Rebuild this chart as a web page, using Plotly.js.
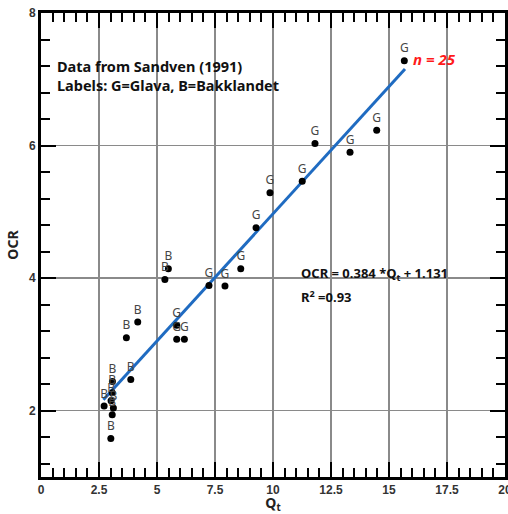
<!DOCTYPE html>
<html>
<head>
<meta charset="utf-8">
<script src="https://cdn.plot.ly/plotly-3.0.1.min.js"></script>
<style>
  html, body { margin: 0; padding: 0; background: #fff; }
  #chart { width: 508px; height: 514px; }
</style>
</head>
<body>
<div id="chart"></div>
<script>
// Sandven (1991) piezocone data: normalized cone resistance vs OCR
const qt = [15.66, 14.47, 13.32, 11.81, 11.26, 9.87, 9.27, 8.61, 7.93, 7.24, 5.85, 5.85, 6.18,
            5.49, 5.34, 4.17, 3.68, 3.87, 3.08, 3.07, 3.02, 2.72, 3.12, 3.07, 3.01];
const ocr = [7.28, 6.23, 5.90, 6.03, 5.46, 5.29, 4.76, 4.14, 3.88, 3.89, 3.29, 3.08, 3.08,
             4.14, 3.98, 3.34, 3.10, 2.47, 2.44, 2.27, 2.15, 2.07, 2.04, 1.94, 1.58];
const site = ['G', 'G', 'G', 'G', 'G', 'G', 'G', 'G', 'G', 'G', 'G', 'G', 'G',
              'B', 'B', 'B', 'B', 'B', 'B', 'B', 'B', 'B', 'B', 'B', 'B'];

// Linear fit OCR = a*Qt + b
const slope = 0.384;
const intercept = 1.131;
const rSquared = 0.93;
const fitRange = [2.69, 15.69];

const xTicks = [0, 2.5, 5, 7.5, 10, 12.5, 15, 17.5, 20];
const yTicks = [2, 4, 6, 8];

const fitX = fitRange;
const fitY = fitRange.map(v => slope * v + intercept);

const points = {
  x: qt, y: ocr, text: site,
  type: 'scatter', mode: 'markers+text',
  marker: { color: '#000', size: 7 },
  textposition: 'top center',
  textfont: { family: 'Noto Sans, sans-serif', size: 12, color: '#444' },
  cliponaxis: false,
  hoverinfo: 'x+y'
};

const fit = {
  x: fitX, y: fitY,
  type: 'scatter', mode: 'lines',
  line: { color: '#1f6bc1', width: 3 },
  hoverinfo: 'skip'
};

const axisCommon = {
  showline: true, linecolor: '#000', linewidth: 3,
  mirror: 'ticks',
  ticks: 'inside', ticklen: 15, tickwidth: 2, tickcolor: '#000',
  showgrid: true, gridcolor: '#8a8a8a', gridwidth: 1.5,
  zeroline: false,
  ticklabeloverflow: 'allow',
  tickfont: { family: 'Liberation Sans, Arial, sans-serif', size: 12, color: '#333', weight: 'bold' }
};

const layout = {
  width: 508, height: 514,
  margin: { l: 41, r: 3, t: 13, b: 37 },
  paper_bgcolor: '#fff', plot_bgcolor: '#fff',
  showlegend: false,
  xaxis: Object.assign({}, axisCommon, {
    range: [0, 20],
    tickvals: xTicks,
    ticktext: xTicks.map(String),
    minor: { dtick: 0.5, tick0: 0, ticks: 'inside', ticklen: 9, tickwidth: 2, tickcolor: '#000', showgrid: false },
    title: { text: 'Q<sub>t</sub>', standoff: 4,
             font: { family: 'Noto Sans, sans-serif', size: 14, color: '#222', weight: 'bold' } }
  }),
  yaxis: Object.assign({}, axisCommon, {
    range: [1, 8],
    tickvals: yTicks,
    ticktext: yTicks.map(String),
    minor: { dtick: 0.4, tick0: 0, ticks: 'inside', ticklen: 9, tickwidth: 2, tickcolor: '#000', showgrid: false },
    title: { text: 'OCR', standoff: 8,
             font: { family: 'Noto Sans, sans-serif', size: 14, color: '#222', weight: 'bold' } }
  }),
  annotations: [
    {
      x: 0.62, y: 7.05, xref: 'x', yref: 'y', xanchor: 'left', yanchor: 'middle',
      text: 'Data from Sandven (1991)<br>Labels: G=Glava, B=Bakklandet',
      align: 'left', showarrow: false,
      font: { family: 'Noto Sans, sans-serif', size: 14.5, color: '#111', weight: 'bold' }
    },
    {
      x: 15.95, y: 7.31, xref: 'x', yref: 'y', xanchor: 'left', yanchor: 'middle',
      text: '<i>n = 25</i>', showarrow: false,
      font: { family: 'Noto Sans, sans-serif', size: 15, color: '#ff1a1a', weight: 'bold' }
    },
    {
      x: 11.1, y: 4.07, xref: 'x', yref: 'y', xanchor: 'left', yanchor: 'middle',
      text: 'OCR = ' + slope.toFixed(3) + ' *Q<sub>t</sub> + ' + intercept.toFixed(3),
      showarrow: false,
      font: { family: 'Noto Sans, sans-serif', size: 13, color: '#111', weight: 'bold' }
    },
    {
      x: 11.1, y: 3.73, xref: 'x', yref: 'y', xanchor: 'left', yanchor: 'middle',
      text: 'R<sup>2</sup> =' + rSquared.toFixed(2),
      showarrow: false,
      font: { family: 'Noto Sans, sans-serif', size: 13, color: '#111', weight: 'bold' }
    }
  ]
};

Plotly.newPlot('chart', [fit, points], layout, { displayModeBar: false, staticPlot: true });
</script>
</body>
</html>
